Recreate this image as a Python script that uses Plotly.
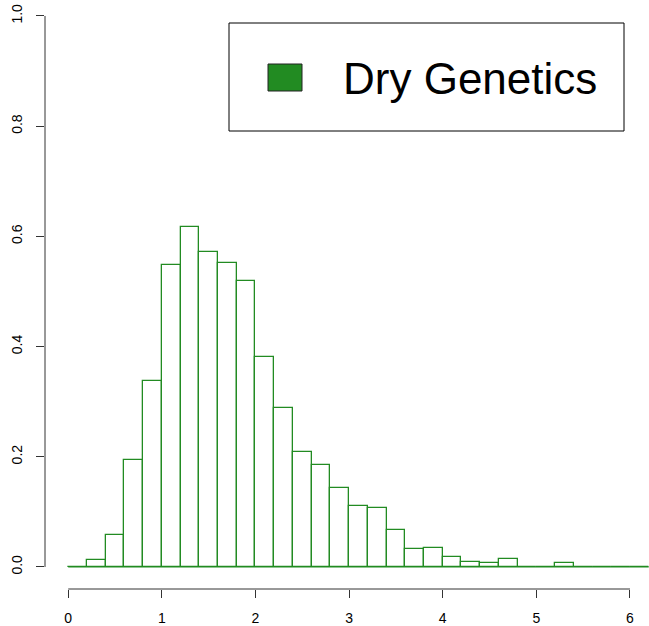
import plotly.graph_objects as go

# Histogram data (density), bin width 0.2
breaks = [round(0.2 * i, 1) for i in range(0, 32)]  # 0.0 ... 6.2
density = [0.0, 0.013, 0.058, 0.194, 0.338, 0.548, 0.617, 0.572, 0.551, 0.519,
           0.381, 0.289, 0.209, 0.185, 0.143, 0.111, 0.107, 0.067, 0.033, 0.035,
           0.018, 0.0096, 0.0067, 0.0145, 0.0, 0.0, 0.0067, 0.0, 0.0, 0.0, 0.0]
centers = [(breaks[i] + breaks[i + 1]) / 2 for i in range(len(density))]
x_ticks = [0, 1, 2, 3, 4, 5, 6]
y_ticks = [0.0, 0.2, 0.4, 0.6, 0.8, 1.0]
y_tick_labels = ["0.0", "0.2", "0.4", "0.6", "0.8", "1.0"]
legend_label = "Dry Genetics"

GREEN = "#228B22"
W, H = 649, 626
ML, MR, MT, MB = 45, 0, 0, 37
PW, PH = W - ML - MR, H - MT - MB

def px(x):
    return (x - ML) / PW

def py(y):
    return (H - MB - y) / PH

fig = go.Figure()
fig.add_trace(go.Bar(
    x=centers, y=density, width=0.2,
    marker=dict(color="rgba(255,255,255,0)", line=dict(color=GREEN, width=1.3)),
    showlegend=False, hoverinfo="skip",
))
fig.add_trace(go.Scatter(
    x=[breaks[0], breaks[-1]], y=[0, 0], mode="lines",
    line=dict(color=GREEN, width=1.3), showlegend=False, hoverinfo="skip",
))

font = dict(family="Liberation Sans, Arial, sans-serif", size=14, color="black")

fig.update_layout(
    width=W, height=H,
    margin=dict(l=ML, r=MR, t=MT, b=MB),
    paper_bgcolor="white", plot_bgcolor="white",
    bargap=0,
    xaxis=dict(range=[-0.248, 6.203], tickvals=x_ticks, ticktext=[str(v) for v in x_ticks],
               ticks="outside", ticklen=8, tickcolor="#333", tickwidth=1,
               showgrid=False, zeroline=False, showline=False, tickfont=font,
               ticklabelstandoff=8),
    yaxis=dict(range=[-0.04, 1.029], tickvals=y_ticks, ticktext=y_tick_labels,
               ticks="outside", ticklen=8, tickcolor="#333", tickwidth=1,
               tickangle=-90, showgrid=False, zeroline=False, showline=False,
               tickfont=font, ticklabelstandoff=8),
    showlegend=False,
)

shapes = [
    # x axis line (from first to last tick)
    dict(type="line", xref="x", yref="paper", x0=x_ticks[0], x1=x_ticks[-1], y0=0, y1=0,
         line=dict(color="#333", width=1)),
    # y axis line
    dict(type="line", xref="paper", yref="y", x0=0, x1=0, y0=y_ticks[0], y1=y_ticks[-1],
         line=dict(color="#333", width=1)),
    # legend box
    dict(type="rect", xref="paper", yref="paper", x0=px(229), x1=px(624), y0=py(131), y1=py(23),
         line=dict(color="black", width=1), fillcolor="white"),
    # legend key
    dict(type="rect", xref="paper", yref="paper", x0=px(268), x1=px(302), y0=py(91), y1=py(64),
         line=dict(color="#222", width=1), fillcolor=GREEN),
]
fig.update_layout(shapes=shapes)
fig.add_annotation(
    xref="paper", yref="paper", x=px(341), y=py(78), xanchor="left", yanchor="middle",
    text=legend_label, showarrow=False,
    font=dict(family="Liberation Sans, Arial, sans-serif", size=44, color="black"),
)

fig.write_html("out.html", config={"displayModeBar": False},
               post_script="document.body.style.margin='0';")
